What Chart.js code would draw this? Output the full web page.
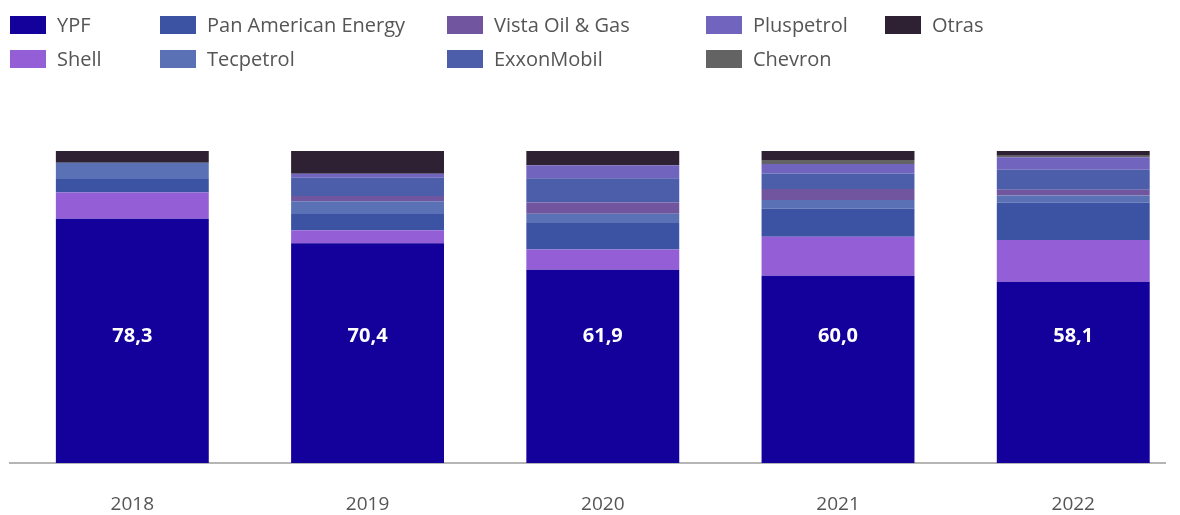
<!DOCTYPE html>
<html>
<head>
<meta charset="utf-8">
<script src="https://cdn.jsdelivr.net/npm/chart.js@4.4.0/dist/chart.umd.min.js"></script>
<style>
  html, body { margin: 0; padding: 0; background: #fff; }
  #wrap { position: relative; width: 1180px; height: 515px; overflow: hidden; }
  #legend { position: absolute; left: 0; top: 0; width: 1180px; height: 80px; font-family: "Open Sans", sans-serif; font-size: 20px; color: #555; }
  .item { position: absolute; display: flex; align-items: center; white-space: nowrap; }
  .sw { width: 36px; height: 18px; margin-right: 11px; }
</style>
</head>
<body>
<div id="wrap">
  <canvas id="chart" width="1180" height="515"></canvas>
  <div id="legend"></div>
</div>
<script>
// Participación por empresa (%)
const years = [2018, 2019, 2020, 2021, 2022];

const ypf        = [78.3, 70.4, 61.9, 60.0, 58.1];
const shell      = [8.4, 4.2, 6.5, 12.5, 13.4];
const panAmerican = [4.3, 5.2, 8.5, 9.1, 12.0];
const tecpetrol  = [5.2, 4.1, 3.0, 2.7, 2.2];
const vista      = [0, 1.7, 3.6, 3.5, 1.9];
const exxon      = [0, 5.8, 7.8, 5.0, 6.4];
const pluspetrol = [0, 1.3, 4.1, 3.0, 4.0];
const chevron    = [0, 0, 0, 1.3, 0.5];
const otras      = [3.8, 7.3, 4.6, 2.9, 1.5];

// stack order, bottom to top
const series = [
  { label: "YPF", data: ypf, color: "#14009a" },
  { label: "Shell", data: shell, color: "#935ed6" },
  { label: "Pan American Energy", data: panAmerican, color: "#3c53a4" },
  { label: "Tecpetrol", data: tecpetrol, color: "#5a72b5" },
  { label: "Vista Oil & Gas", data: vista, color: "#71559f" },
  { label: "ExxonMobil", data: exxon, color: "#4c5ea9" },
  { label: "Pluspetrol", data: pluspetrol, color: "#7064bf" },
  { label: "Chevron", data: chevron, color: "#636363" },
  { label: "Otras", data: otras, color: "#2e2133" },
];

// legend: two rows, filled column by column
const legendCols = [10, 160, 447, 706, 885];
const legendRows = [24, 58];
const legend = document.getElementById("legend");
series.forEach((s, i) => {
  const el = document.createElement("div");
  el.className = "item";
  el.style.left = legendCols[Math.floor(i / 2)] + "px";
  el.style.top = (legendRows[i % 2] - 13) + "px";
  el.innerHTML = '<span class="sw" style="background:' + s.color + '"></span><span></span>';
  el.lastChild.textContent = s.label;
  legend.appendChild(el);
});

// YPF values, all written at the same height inside the bars
const ypfLabels = {
  id: "ypfLabels",
  afterDatasetsDraw(chart) {
    const ctx = chart.ctx;
    const meta = chart.getDatasetMeta(0);
    const y = chart.scales.y.getPixelForValue(40.5);
    ctx.save();
    ctx.fillStyle = "#ffffff";
    ctx.font = "bold 20px 'Open Sans', sans-serif";
    ctx.textAlign = "center";
    ctx.textBaseline = "middle";
    meta.data.forEach((bar, i) => {
      ctx.fillText(ypf[i].toFixed(1).replace(".", ","), bar.x, y);
    });
    ctx.restore();
  }
};

new Chart(document.getElementById("chart"), {
  type: "bar",
  data: {
    datasets: series.map(s => ({
      label: s.label,
      data: years.map((y, i) => ({ x: y, y: s.data[i] })),
      backgroundColor: s.color,
      borderWidth: 0,
      barPercentage: 1,
      categoryPercentage: 0.65,
    })),
  },
  options: {
    responsive: false,
    animation: false,
    layout: { padding: { top: 151, left: 10, right: 15, bottom: 0 } },
    plugins: { legend: { display: false }, tooltip: { enabled: false } },
    scales: {
      x: {
        type: "linear",
        stacked: true,
        offset: false,
        bounds: "data",
        min: 2017.48,
        max: 2022.39,
        afterBuildTicks: scale => { scale.ticks = years.map(v => ({ value: v })); },
        afterFit: scale => { scale.height = 52; },
        grid: { display: true, offset: false, drawOnChartArea: false, drawTicks: false },
        border: { display: true, color: "#b5b5b5", width: 2 },
        ticks: {
          padding: 30,
          color: "#555",
          font: { family: "'Open Sans', sans-serif", size: 19 },
          callback: v => String(v),
        },
      },
      y: {
        stacked: true,
        display: false,
        min: 0,
        max: 100,
      },
    },
  },
  plugins: [ypfLabels],
});
</script>
</body>
</html>
